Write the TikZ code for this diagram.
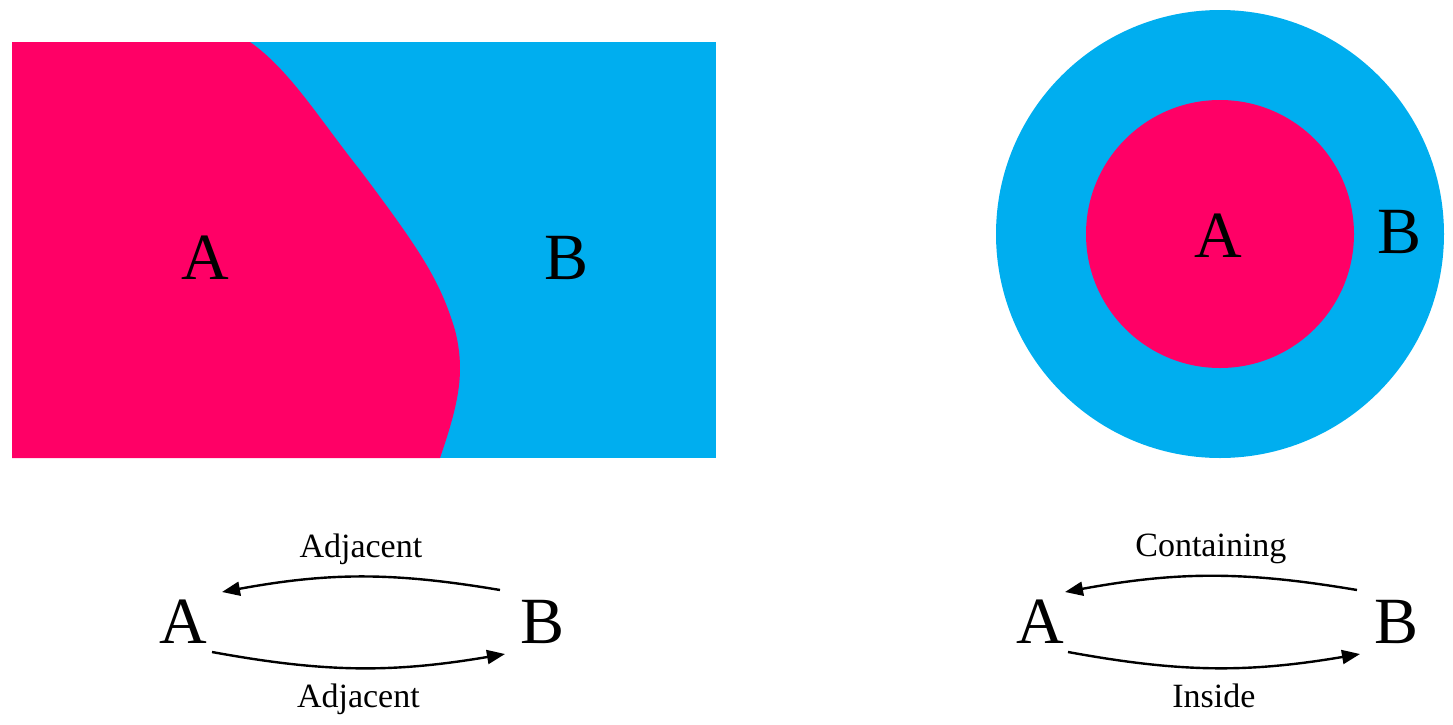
\documentclass[tikz,border=0pt]{standalone}
\usepackage{fontspec}
\setmainfont{Liberation Serif}
\usetikzlibrary{arrows.meta}
\definecolor{pinkA}{HTML}{FF0066}
\definecolor{blueB}{HTML}{00AEEF}
\tikzset{big/.style={font=\fontsize{33}{36}\selectfont},
 lbl/.style={font=\fontsize{17}{20}\selectfont},
 rel/.style={line width=1.2pt,-{Triangle[length=9pt,width=7pt]}}}
\begin{document}
\begin{tikzpicture}[x=0.5pt,y=-0.5pt]
\useasboundingbox (0,0) rectangle (1453,724);
\fill[blueB] (12,42) rectangle (716,458);
\fill[pinkA] (12,42) -- (250,42) .. controls (290,70) and (320,120) .. (360,170)
 .. controls (420,250) and (440,280) .. (455,330) .. controls (465,370) and (460,400) .. (440,458) -- (12,458) -- cycle;
\node[big] (a1) at (205,258) {A};
\node[big] (b1) at (567,258) {B};
\fill[blueB] (1220,234) circle (224);
\fill[pinkA] (1220,234) circle (134);
\node[big] (a2) at (1218,236) {A};
\node[big] (b2) at (1400,232) {B};
\node[big] (a3) at (183,622) {A};
\node[big] (b3) at (543,622) {B};
\node[big] (a4) at (1040,622) {A};
\node[big] (b4) at (1397,622) {B};
\coordinate (p1) at (500,590); \coordinate (q1) at (222,592);
\coordinate (p2) at (212,652); \coordinate (q2) at (505,654);
\coordinate (p3) at (1357,590); \coordinate (q3) at (1065,592);
\coordinate (p4) at (1068,652); \coordinate (q4) at (1360,654);
\draw[rel] (p1) to[bend right=10] node[lbl,above=2pt]{Adjacent} (q1);
\draw[rel] (p2) to[bend right=10] node[lbl,below=4pt]{Adjacent} (q2);
\draw[rel] (p3) to[bend right=10] node[lbl,above=2pt]{Containing} (q3);
\draw[rel] (p4) to[bend right=10] node[lbl,below=4pt]{Inside} (q4);
\end{tikzpicture}
\end{document}
